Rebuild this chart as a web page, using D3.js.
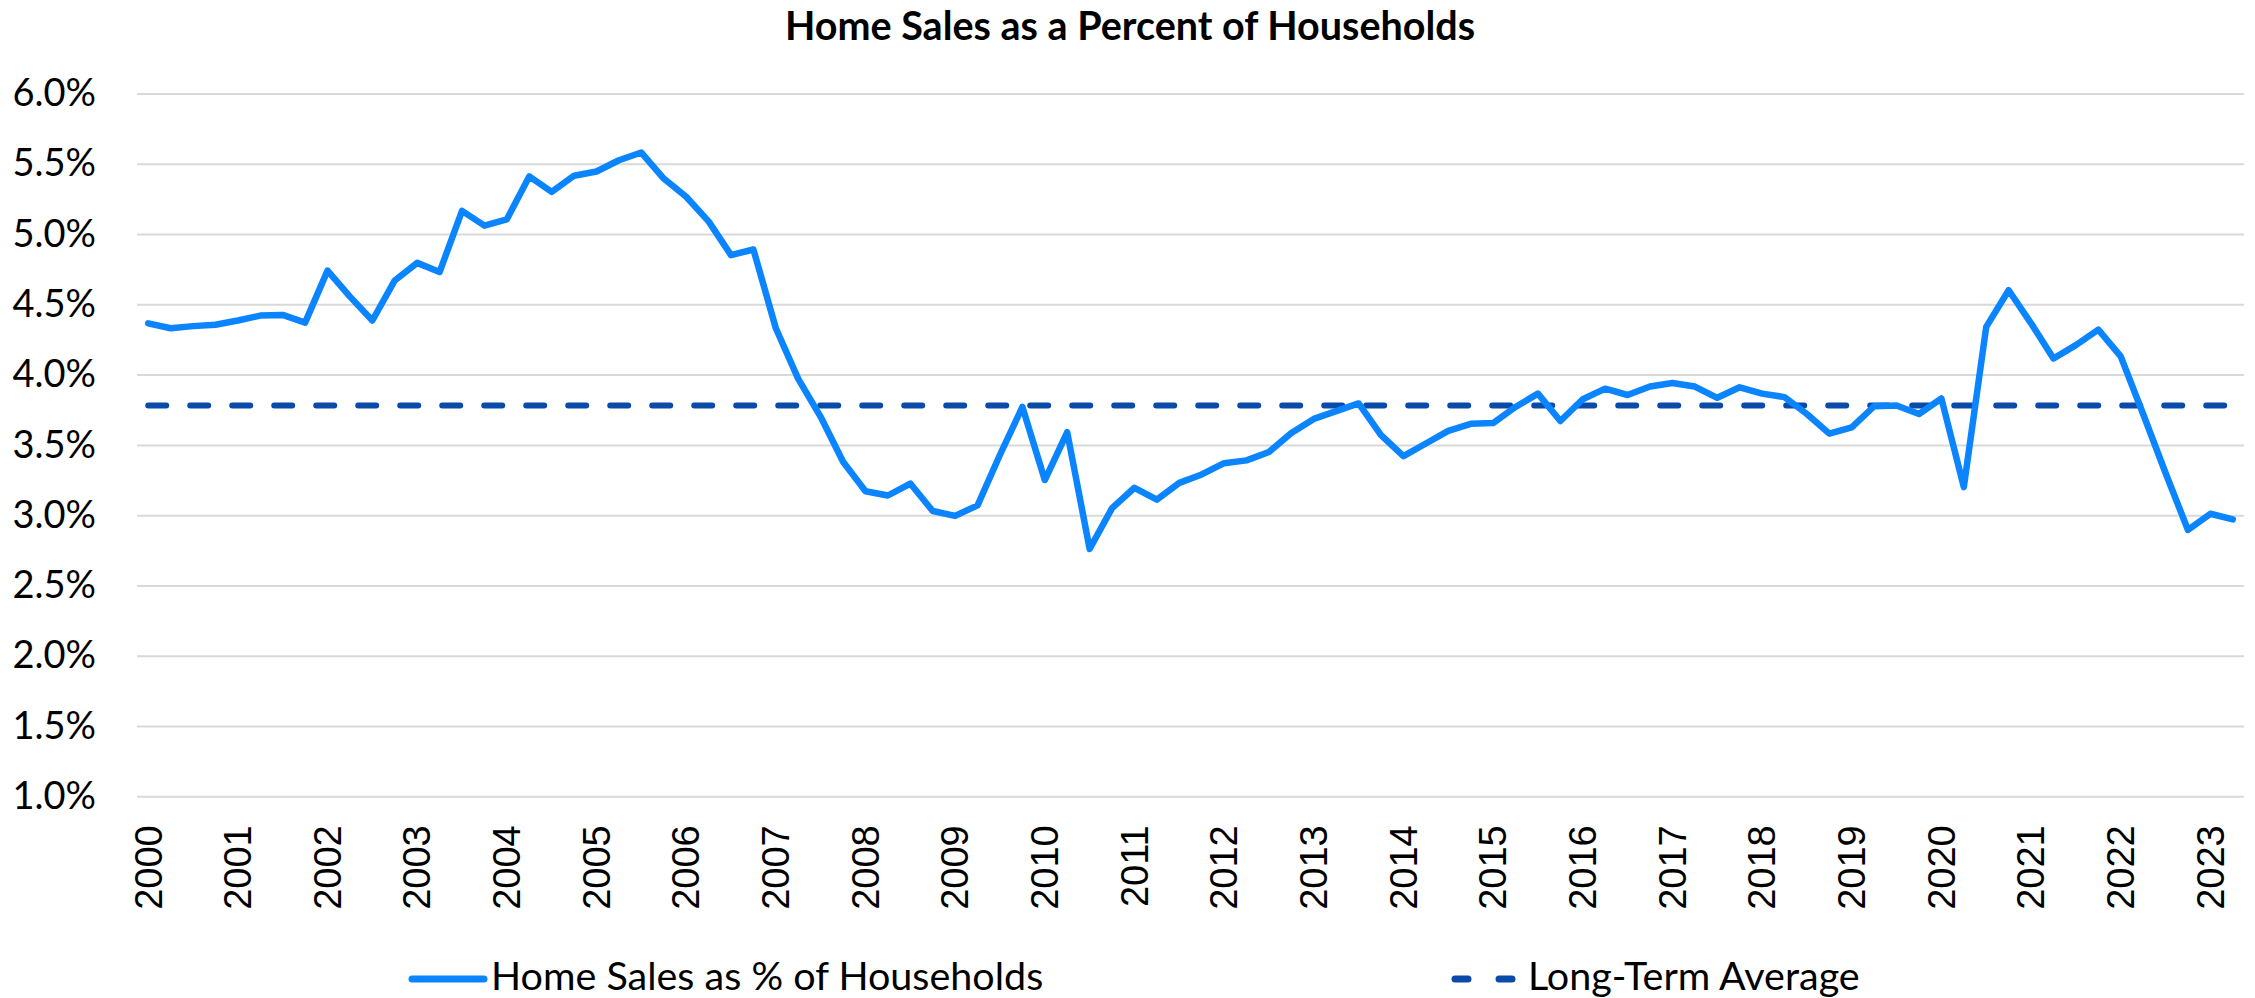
<!DOCTYPE html>
<html>
<head>
<meta charset="utf-8">
<script src="https://cdn.jsdelivr.net/npm/d3@7"></script>
<style>
  body { margin: 0; background: #fff; }
  #chart svg { display: block; }
</style>
</head>
<body>
<div id="chart"></div>
<script>

const years = d3.range(2000, 2024);
const quarters = years.flatMap((yr) => ['Q1', 'Q2', 'Q3', 'Q4'].map((q) => yr + ' ' + q)).slice(0, 94);

// home sales as % of households, quarterly 2000 Q1 .. 2023 Q2
const homeSalesPct = [
  4.365, 4.33, 4.345, 4.355, 4.385, 4.42, 4.425, 4.37,
  4.74, 4.555, 4.385, 4.67, 4.795, 4.73, 5.165, 5.06,
  5.105, 5.41, 5.30, 5.415, 5.445, 5.525, 5.58, 5.395,
  5.265, 5.09, 4.85, 4.89, 4.33, 3.97, 3.70, 3.38,
  3.17, 3.14, 3.225, 3.03, 2.995, 3.07, 3.43, 3.77,
  3.25, 3.59, 2.76, 3.05, 3.195, 3.11, 3.23, 3.29,
  3.37, 3.39, 3.45, 3.585, 3.685, 3.74, 3.795, 3.57,
  3.42, 3.51, 3.60, 3.65, 3.655, 3.77, 3.865, 3.67,
  3.825, 3.90, 3.855, 3.915, 3.94, 3.915, 3.835, 3.91,
  3.865, 3.84, 3.72, 3.58, 3.625, 3.775, 3.78, 3.72,
  3.83, 3.20, 4.34, 4.60, 4.365, 4.115, 4.21, 4.32,
  4.13, 3.72, 3.30, 2.895, 3.01, 2.97
];
const longTermAvg = 3.78;

const yTicks = [1.0, 1.5, 2.0, 2.5, 3.0, 3.5, 4.0, 4.5, 5.0, 5.5, 6.0];
const yearLabels = quarters.filter((q) => q.endsWith('Q1'));

const seriesNames = ['Home Sales as % of Households', 'Long-Term Average'];
const title = 'Home Sales as a Percent of Households';

const width = 2255;
const height = 998;
const plotLeft = 137;
const plotRight = 2244;
const plotTop = 93.5;
const plotBottom = 796.3;

const lineColor = '#0A84FF';
const avgColor = '#0A4BAA';

const svg = d3.select('#chart')
              .append('svg')
              .attr('width', width)
              .attr('height', height)
              .style('background', '#fff');

const xScale = d3.scaleBand()
                 .domain(quarters)
                 .range([plotLeft, plotRight]);
const xMid = (q) => xScale(q) + xScale.bandwidth() / 2;

const yScale = d3.scaleLinear()
                 .domain([1, 6])
                 .range([plotBottom, plotTop]);

// gridlines + y labels
const yAxis = d3.axisLeft(yScale)
                .tickValues(yTicks)
                .tickSize(-(plotRight - plotLeft))
                .tickPadding(41)
                .tickFormat((d) => d3.format('.1f')(d) + '%');

svg.append('g')
   .attr('transform', 'translate(' + plotLeft + ',0)')
   .call(yAxis)
   .call((g) => g.select('.domain').remove())
   .call((g) => g.selectAll('line').attr('stroke', '#D9D9D9').attr('stroke-width', 2))
   .call((g) => g.selectAll('text')
                 .attr('font-family', 'Lato, sans-serif')
                 .attr('font-size', 38)
                 .attr('fill', '#000'));

// x labels
const xAxis = d3.axisBottom(xScale)
                .tickValues(yearLabels)
                .tickSize(0)
                .tickFormat((d) => d.slice(0, 4));

svg.append('g')
   .attr('transform', 'translate(0,' + plotBottom + ')')
   .call(xAxis)
   .call((g) => g.select('.domain').remove())
   .call((g) => g.selectAll('text')
                 .attr('font-family', '"Liberation Sans", Arial, sans-serif')
                 .attr('font-size', 38)
                 .attr('fill', '#000')
                 .attr('text-anchor', 'end')
                 .attr('transform', 'translate(0,29) rotate(-90)')
                 .attr('x', 0)
                 .attr('y', 0)
                 .attr('dy', '0.35em'));

// long-term average
svg.append('line')
   .attr('x1', xMid(quarters[0]))
   .attr('x2', xMid(quarters[quarters.length - 1]))
   .attr('y1', yScale(longTermAvg))
   .attr('y2', yScale(longTermAvg))
   .attr('stroke', avgColor)
   .attr('stroke-width', 6)
   .attr('stroke-linecap', 'round')
   .attr('stroke-dasharray', '18,24');

// main series
const line = d3.line()
               .x((d, i) => xMid(quarters[i]))
               .y((d) => yScale(d));

svg.append('path')
   .datum(homeSalesPct)
   .attr('d', line)
   .attr('fill', 'none')
   .attr('stroke', lineColor)
   .attr('stroke-width', 6.5)
   .attr('stroke-linejoin', 'round')
   .attr('stroke-linecap', 'round');

// title
svg.append('text')
   .attr('x', 1130)
   .attr('y', 40)
   .attr('text-anchor', 'middle')
   .attr('font-family', 'Lato, sans-serif')
   .attr('font-weight', 'bold')
   .attr('font-size', 39.5)
   .text(title);

// legend
const legend = svg.append('g');

legend.append('line')
      .attr('x1', 412).attr('x2', 484)
      .attr('y1', 979).attr('y2', 979)
      .attr('stroke', lineColor)
      .attr('stroke-width', 7)
      .attr('stroke-linecap', 'round');

legend.append('text')
      .attr('x', 491)
      .attr('y', 990)
      .attr('font-family', 'Lato, sans-serif')
      .attr('font-size', 39.5)
      .text(seriesNames[0]);

legend.append('line')
      .attr('x1', 1455).attr('x2', 1512)
      .attr('y1', 979).attr('y2', 979)
      .attr('stroke', avgColor)
      .attr('stroke-width', 7)
      .attr('stroke-linecap', 'round')
      .attr('stroke-dasharray', '13,31');

legend.append('text')
      .attr('x', 1528)
      .attr('y', 990)
      .attr('font-family', 'Lato, sans-serif')
      .attr('font-size', 39.5)
      .text(seriesNames[1]);

</script>
</body>
</html>
